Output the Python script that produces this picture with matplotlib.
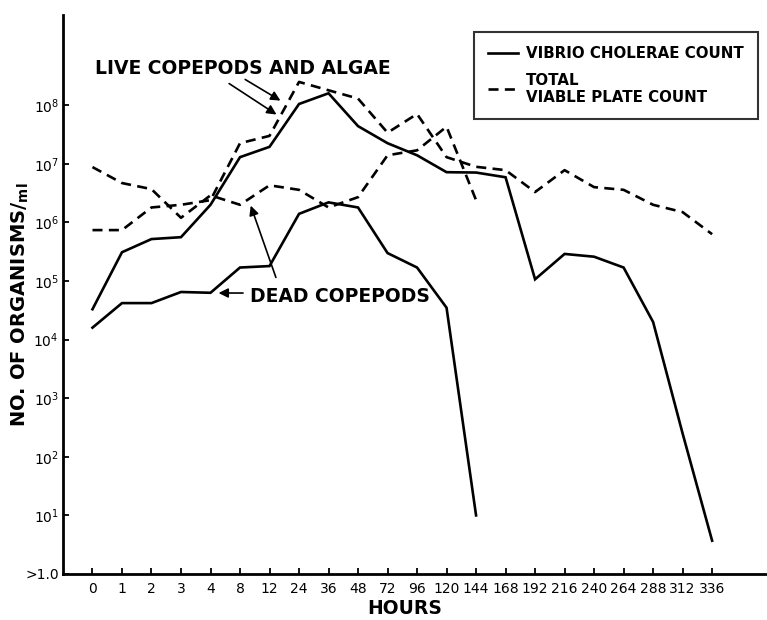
# Vibrio cholerae counts on live / dead copepods (log scale)
import numpy as np
import matplotlib.pyplot as plt
from matplotlib.lines import Line2D

# DATA
hours = ["0", "1", "2", "3", "4", "8", "12", "24", "36", "48", "72", "96",
         "120", "144", "168", "192", "216", "240", "264", "288", "312", "336"]

live_vibrio = [3.3e4, 3.1e5, 5.2e5, 5.6e5, 2.0e6, 1.3e7, 1.95e7, 1.05e8, 1.6e8, 4.4e7,
               2.25e7, 1.4e7, 7.2e6, 7.1e6, 5.9e6, 1.07e5, 2.9e5, 2.6e5, 1.7e5, 2.0e4,
               250, 3.7]
live_total = [7.4e5, 7.4e5, 1.8e6, 2.0e6, 2.4e6, 2.25e7, 3.0e7, 2.5e8, 1.8e8, 1.3e8,
              3.4e7, 7.1e7, 1.3e7, 8.9e6, 7.8e6, 3.3e6, 7.8e6, 4.0e6, 3.6e6, 2.0e6,
              1.5e6, 6.3e5]
dead_vibrio = [1.6e4, 4.2e4, 4.2e4, 6.5e4, 6.3e4, 1.7e5, 1.8e5, 1.4e6, 2.2e6, 1.8e6,
               3.0e5, 1.7e5, 3.5e4, 10]
dead_total = [8.8e6, 4.7e6, 3.7e6, 1.2e6, 2.9e6, 2.0e6, 4.3e6, 3.6e6, 1.8e6, 2.7e6,
              1.4e7, 1.7e7, 4.3e7, 2.4e6]

ytick_vals = [1, 10, 1e2, 1e3, 1e4, 1e5, 1e6, 1e7, 1e8]
ytick_labels = [">1.0"] + [r"$10^{%d}$" % i for i in range(1, 9)]

x_live = np.arange(len(live_vibrio))
x_dead = np.arange(len(dead_vibrio))

fig = plt.figure(figsize=(7.67, 6.2), dpi=100)
ax = fig.add_axes([0.0821, 0.0742, 0.9179, 0.9016])

lw = 1.9
dash = (0, (3.8, 2.4))
ax.plot(x_live, live_vibrio, color="black", lw=lw, solid_joinstyle="miter")
ax.plot(x_live, live_total, color="black", lw=lw, linestyle=dash)
ax.plot(x_dead, dead_vibrio, color="black", lw=lw, solid_joinstyle="miter")
ax.plot(x_dead, dead_total, color="black", lw=lw, linestyle=dash)

ax.set_yscale("log")
ax.set_ylim(1, 10 ** 9.54)
ax.set_xlim(-1.0, 22.86)
ax.set_yticks(ytick_vals)
ax.set_yticklabels(ytick_labels, fontsize=10)
ax.yaxis.set_minor_locator(plt.NullLocator())
ax.set_xticks(x_live)
ax.set_xticklabels(hours, fontsize=10)
ax.tick_params(direction="in", length=4, width=1.3, pad=6)
ax.tick_params(axis="y", pad=3)

for s in ["top", "right"]:
    ax.spines[s].set_visible(False)
for s in ["left", "bottom"]:
    ax.spines[s].set_linewidth(2)

fig.text(405 / 767, 1 - 609 / 620, "HOURS", fontsize=13.5, fontweight="black",
         ha="center", va="center")
fig.text(20 / 767, 1 - 305 / 620, r"NO. OF ORGANISMS/$_{\mathbf{ml}}$", fontsize=14,
         fontweight="black", rotation=90, ha="center", va="center")

# annotations
def px(xp, yp):
    # pixel -> data helper for annotation placement
    return (xp - 92.7) / 29.5, 10 ** ((574 - yp) / 58.6)

ax.text(*px(243, 68), "LIVE COPEPODS AND ALGAE", fontsize=13.5, fontweight="black",
        ha="center", va="center")
ax.annotate("", xy=px(279, 116), xytext=px(227, 82),
            arrowprops=dict(arrowstyle="-|>", color="black", lw=1.2, mutation_scale=14))
ax.annotate("", xy=px(283, 102), xytext=px(243, 78),
            arrowprops=dict(arrowstyle="-|>", color="black", lw=1.2, mutation_scale=14))

ax.text(*px(340, 296), "DEAD COPEPODS", fontsize=13.5, fontweight="black",
        ha="center", va="center")
ax.annotate("", xy=px(216, 293), xytext=px(246, 293),
            arrowprops=dict(arrowstyle="-|>", color="black", lw=1.2, mutation_scale=14))
ax.annotate("", xy=px(250, 203), xytext=px(277, 280),
            arrowprops=dict(arrowstyle="-|>", color="black", lw=1.2, mutation_scale=14))

# legend
handles = [Line2D([], [], color="black", lw=lw),
           Line2D([], [], color="black", lw=lw, linestyle=dash)]
leg = fig.legend(handles, ["VIBRIO CHOLERAE COUNT", "TOTAL\nVIABLE PLATE COUNT"],
                 loc="upper left", bbox_to_anchor=(474 / 767, 1 - 32 / 620),
                 prop={"weight": "black", "size": 10.8}, frameon=True, fancybox=False,
                 edgecolor="black", handlelength=2.0, handletextpad=0.5,
                 borderpad=0.95, labelspacing=0.75, borderaxespad=0)
leg.get_frame().set_linewidth(1.5)

fig.savefig("out.png", dpi=100)
